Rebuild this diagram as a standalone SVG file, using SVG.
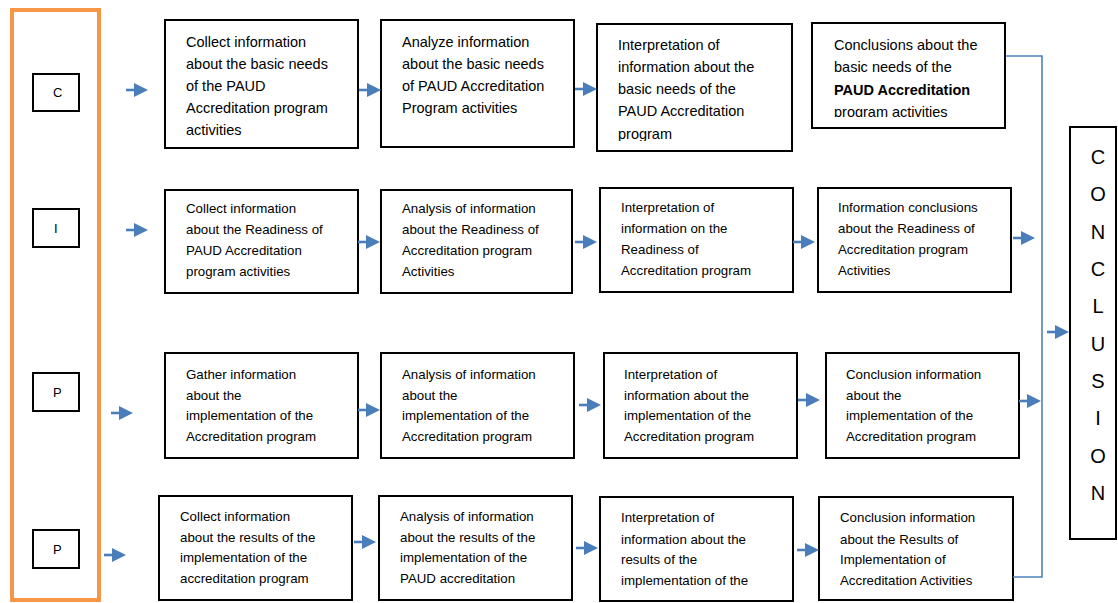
<svg xmlns="http://www.w3.org/2000/svg" xmlns:xlink="http://www.w3.org/1999/xlink" width="1118" height="603" viewBox="0 0 1118 603">
<style>
.box{fill:#fff;stroke:#000;stroke-width:2}
.t1{font-family:"Liberation Sans",Arial,sans-serif;font-size:14.5px;fill:#000}
.t2{font-family:"Liberation Sans",Arial,sans-serif;font-size:13.3px;fill:#000}
.lt{font-family:"Liberation Sans",Arial,sans-serif;font-size:13px;fill:#000}
.big{font-family:"Liberation Sans",Arial,sans-serif;font-size:20px;fill:#000;text-anchor:middle}
.conn{fill:none;stroke:#4f81bd;stroke-width:1.6}
</style>
<defs>
<g id="arr"><line x1="0" y1="0" x2="10" y2="0" stroke="#4a7ebb" stroke-width="2.6"/><polygon points="8,-7 22,0 8,7" fill="#4a7ebb"/></g>
<clipPath id="c13"><rect x="597" y="24" width="196" height="117"/></clipPath>
<clipPath id="c14"><rect x="812" y="23" width="194" height="94"/></clipPath>
</defs>
<rect width="1118" height="603" fill="#fff"/>

<g id="phase-column">
<rect x="12" y="10" width="87" height="590" fill="#fff" stroke="#f79646" stroke-width="4"/>
</g>
<g id="node-C"><rect class="box" x="33" y="74" width="46" height="37"/><text class="lt" x="53" y="97">C</text></g>
<g id="node-I"><rect class="box" x="33" y="209" width="46" height="38"/><text class="lt" x="54" y="233">I</text></g>
<g id="node-P1"><rect class="box" x="33" y="373" width="46" height="38"/><text class="lt" x="53" y="397">P</text></g>
<g id="node-P2"><rect class="box" x="33" y="530" width="46" height="38"/><text class="lt" x="53" y="554">P</text></g>

<g id="r1n1"><rect class="box" x="165" y="20" width="193" height="128"/>
<text class="t1" x="186" y="47">Collect information</text><text class="t1" x="186" y="69">about the basic needs</text><text class="t1" x="186" y="91">of the PAUD</text><text class="t1" x="186" y="113">Accreditation program</text><text class="t1" x="186" y="135">activities</text></g>
<g id="r1n2"><rect class="box" x="381" y="20" width="193" height="127"/>
<text class="t1" x="402" y="47">Analyze information</text><text class="t1" x="402" y="69">about the basic needs</text><text class="t1" x="402" y="91">of PAUD Accreditation</text><text class="t1" x="402" y="113">Program activities</text></g>
<g id="r1n3"><rect class="box" x="597" y="24" width="195" height="127"/>
<g clip-path="url(#c13)"><text class="t1" x="618" y="50">Interpretation of</text><text class="t1" x="618" y="72">information about the</text><text class="t1" x="618" y="94">basic needs of the</text><text class="t1" x="618" y="116">PAUD Accreditation</text><text class="t1" x="618" y="139">program</text></g></g>
<g id="r1n4"><rect class="box" x="812" y="23" width="193" height="105"/>
<g clip-path="url(#c14)"><text class="t1" x="834" y="50">Conclusions about the</text><text class="t1" x="834" y="72">basic needs of the</text><text class="t1" x="834" y="95" font-weight="bold">PAUD Accreditation</text><text class="t1" x="834" y="117">program activities</text></g></g>

<g id="r2n1"><rect class="box" x="165" y="190" width="193" height="103"/>
<text class="t2" x="186" y="213">Collect information</text><text class="t2" x="186" y="234">about the Readiness of</text><text class="t2" x="186" y="255">PAUD Accreditation</text><text class="t2" x="186" y="276">program activities</text></g>
<g id="r2n2"><rect class="box" x="381" y="190" width="191" height="103"/>
<text class="t2" x="402" y="213">Analysis of information</text><text class="t2" x="402" y="234">about the Readiness of</text><text class="t2" x="402" y="255">Accreditation program</text><text class="t2" x="402" y="276">Activities</text></g>
<g id="r2n3"><rect class="box" x="600" y="188" width="193" height="104"/>
<text class="t2" x="621" y="212">Interpretation of</text><text class="t2" x="621" y="233">information on the</text><text class="t2" x="621" y="254">Readiness of</text><text class="t2" x="621" y="275">Accreditation program</text></g>
<g id="r2n4"><rect class="box" x="818" y="188" width="193" height="104"/>
<text class="t2" x="838" y="212">Information conclusions</text><text class="t2" x="838" y="233">about the Readiness of</text><text class="t2" x="838" y="254">Accreditation program</text><text class="t2" x="838" y="275">Activities</text></g>

<g id="r3n1"><rect class="box" x="165" y="353" width="193" height="105"/>
<text class="t2" x="186" y="379">Gather information</text><text class="t2" x="186" y="400">about the</text><text class="t2" x="186" y="420">implementation of the</text><text class="t2" x="186" y="441">Accreditation program</text></g>
<g id="r3n2"><rect class="box" x="381" y="353" width="193" height="105"/>
<text class="t2" x="402" y="379">Analysis of information</text><text class="t2" x="402" y="400">about the</text><text class="t2" x="402" y="420">implementation of the</text><text class="t2" x="402" y="441">Accreditation program</text></g>
<g id="r3n3"><rect class="box" x="604" y="353" width="193" height="105"/>
<text class="t2" x="624" y="379">Interpretation of</text><text class="t2" x="624" y="400">information about the</text><text class="t2" x="624" y="420">implementation of the</text><text class="t2" x="624" y="441">Accreditation program</text></g>
<g id="r3n4"><rect class="box" x="826" y="353" width="193" height="105"/>
<text class="t2" x="846" y="379">Conclusion information</text><text class="t2" x="846" y="400">about the</text><text class="t2" x="846" y="420">implementation of the</text><text class="t2" x="846" y="441">Accreditation program</text></g>

<g id="r4n1"><rect class="box" x="159" y="496" width="193" height="104"/>
<text class="t2" x="180" y="521">Collect information</text><text class="t2" x="180" y="542">about the results of the</text><text class="t2" x="180" y="562">implementation of the</text><text class="t2" x="180" y="583">accreditation program</text></g>
<g id="r4n2"><rect class="box" x="379" y="496" width="193" height="104"/>
<text class="t2" x="400" y="521">Analysis of information</text><text class="t2" x="400" y="542">about the results of the</text><text class="t2" x="400" y="562">implementation of the</text><text class="t2" x="400" y="583">PAUD accreditation</text></g>
<g id="r4n3"><rect class="box" x="600" y="497" width="193" height="104"/>
<text class="t2" x="621" y="522">Interpretation of</text><text class="t2" x="621" y="544">information about the</text><text class="t2" x="621" y="564">results of the</text><text class="t2" x="621" y="585">implementation of the</text></g>
<g id="r4n4"><rect class="box" x="819" y="497" width="194" height="103"/>
<text class="t2" x="840" y="522">Conclusion information</text><text class="t2" x="840" y="544">about the Results of</text><text class="t2" x="840" y="564">Implementation of</text><text class="t2" x="840" y="585">Accreditation Activities</text></g>

<g id="conclusion"><rect class="box" x="1070" y="127" width="46" height="412"/>
<text class="big" x="1098" y="164">C</text><text class="big" x="1098" y="201">O</text><text class="big" x="1098" y="239">N</text><text class="big" x="1098" y="276">C</text><text class="big" x="1098" y="313">L</text><text class="big" x="1098" y="351">U</text><text class="big" x="1098" y="388">S</text><text class="big" x="1098" y="425">I</text><text class="big" x="1098" y="463">O</text><text class="big" x="1098" y="500">N</text></g>

<g id="connectors">
<polyline class="conn" points="1006,56 1042,56 1042,577 1013,577"/>
<use xlink:href="#arr" x="126" y="90"/>
<use xlink:href="#arr" x="359" y="90"/>
<use xlink:href="#arr" x="575" y="89"/>
<use xlink:href="#arr" x="126" y="230"/>
<use xlink:href="#arr" x="358" y="242"/>
<use xlink:href="#arr" x="575" y="242"/>
<use xlink:href="#arr" x="793" y="242"/>
<use xlink:href="#arr" x="1013" y="238"/>
<use xlink:href="#arr" x="111" y="413"/>
<use xlink:href="#arr" x="358" y="410"/>
<use xlink:href="#arr" x="579" y="405"/>
<use xlink:href="#arr" x="798" y="400"/>
<use xlink:href="#arr" x="1019" y="401"/>
<use xlink:href="#arr" x="104" y="555"/>
<use xlink:href="#arr" x="354" y="542"/>
<use xlink:href="#arr" x="576" y="548"/>
<use xlink:href="#arr" x="797" y="550"/>
<use xlink:href="#arr" x="1047" y="332"/>
</g>
</svg>
